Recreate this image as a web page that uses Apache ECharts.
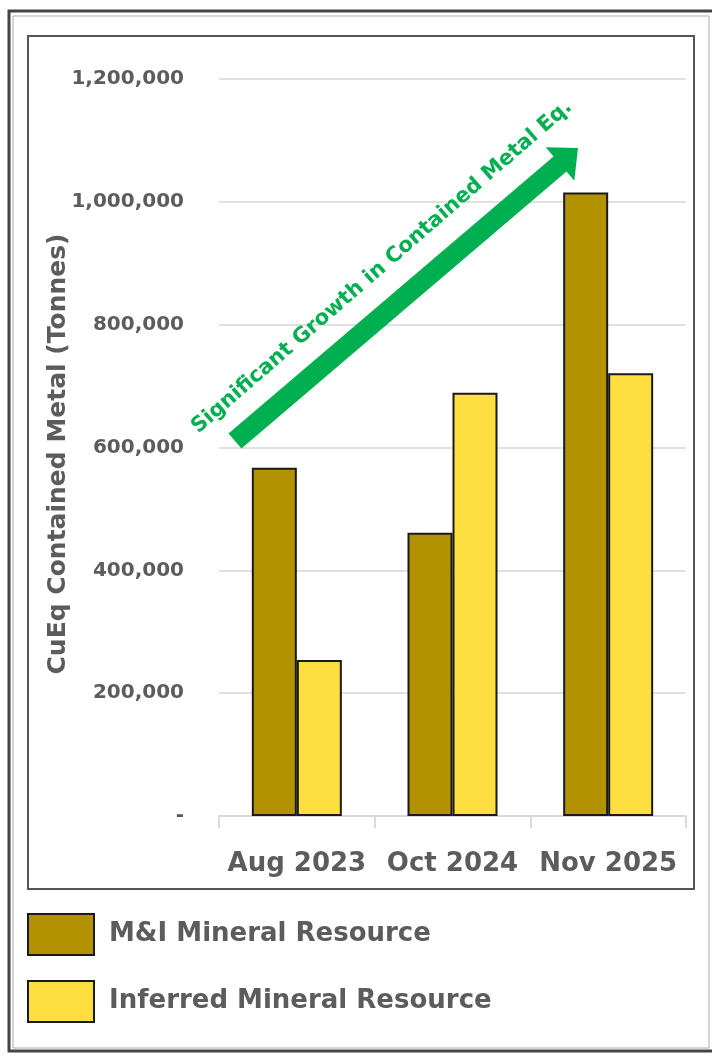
<!DOCTYPE html>
<html>
<head>
<meta charset="utf-8">
<script src="https://cdn.jsdelivr.net/npm/echarts@6/dist/echarts.min.js"></script>
<style>
  html, body { margin: 0; padding: 0; background: #fff; }
  #chart { width: 712px; height: 1057px; }
</style>
</head>
<body>
<div id="chart"></div>
<script>
// data
const categories = ["Aug 2023", "Oct 2024", "Nov 2025"];
const measuredIndicated = [567000, 461000, 1015000];
const inferred = [254000, 689000, 721000];
const seriesNames = ["M&I Mineral Resource", "Inferred Mineral Resource"];
const arrowText = "Significant Growth in Contained Metal Eq.";
const yAxisTitle = "CuEq Contained Metal (Tonnes)";

const FONT = "'DejaVu Sans', sans-serif";
const GREY = "#5c5c5c";
const GREEN = "#00b050";

const chart = echarts.init(document.getElementById("chart"));

// arrow polygon (annotation, pixel space)
function arrowPoints(tail, base, tip, shaftHalf, headHalf) {
  const dx = tip[0] - tail[0], dy = tip[1] - tail[1];
  const len = Math.sqrt(dx * dx + dy * dy);
  const nx = -dy / len, ny = dx / len;
  return [
    [tail[0] + nx * shaftHalf, tail[1] + ny * shaftHalf],
    [base[0] + nx * shaftHalf, base[1] + ny * shaftHalf],
    [base[0] + nx * headHalf, base[1] + ny * headHalf],
    tip,
    [base[0] - nx * headHalf, base[1] - ny * headHalf],
    [base[0] - nx * shaftHalf, base[1] - ny * shaftHalf],
    [tail[0] - nx * shaftHalf, tail[1] - ny * shaftHalf]
  ];
}

const option = {
  backgroundColor: "#fff",
  animation: false,
  grid: {
    left: 219,
    right: 26,
    top: 79,
    bottom: 241
  },
  legend: {
    orient: "vertical",
    left: 27,
    top: 913,
    padding: 0,
    itemWidth: 66,
    itemHeight: 41,
    itemGap: 24,
    icon: "rect",
    textStyle: {
      fontFamily: FONT,
      fontSize: 26,
      fontWeight: 700,
      color: GREY,
      padding: [0, 0, 2, 10]
    },
    data: seriesNames
  },
  xAxis: {
    type: "category",
    data: categories,
    axisLine: { show: true, lineStyle: { color: "#d9d9d9", width: 2 } },
    axisTick: { show: true, length: 12, lineStyle: { color: "#d9d9d9", width: 2 } },
    axisLabel: {
      interval: 0,
      hideOverlap: false,
      margin: 35,
      fontFamily: FONT,
      fontSize: 26,
      fontWeight: 700,
      color: GREY
    }
  },
  yAxis: {
    type: "value",
    min: 0,
    max: 1200000,
    interval: 200000,
    name: yAxisTitle,
    nameLocation: "middle",
    nameRotate: 90,
    nameGap: 148,
    nameMoveOverlap: false,
    nameTextStyle: {
      fontFamily: FONT,
      fontSize: 25,
      fontWeight: 700,
      color: GREY,
      padding: [0, 0, 0, -13]
    },
    axisLine: { show: false },
    axisTick: { show: false },
    splitLine: { show: true, lineStyle: { color: "#e0e0e0", width: 2 } },
    axisLabel: {
      margin: 35,
      fontFamily: FONT,
      fontSize: 20,
      fontWeight: 700,
      color: GREY,
      formatter: v => (v === 0 ? "-" : v.toLocaleString("en-US"))
    }
  },
  series: [
    {
      name: seriesNames[0],
      type: "bar",
      data: measuredIndicated,
      barWidth: 45,
      barGap: "0%",
      itemStyle: { color: "#b39200", borderColor: "#1a1a1a", borderWidth: 2 }
    },
    {
      name: seriesNames[1],
      type: "bar",
      data: inferred,
      barWidth: 45,
      itemStyle: { color: "#ffde40", borderColor: "#1a1a1a", borderWidth: 2 }
    }
  ],
  graphic: [
    // outer double frame
    { type: "rect", silent: true, shape: { x: 9, y: 11, width: 712, height: 1040 },
      style: { fill: "none", stroke: "#444", lineWidth: 3 } },
    { type: "rect", silent: true, shape: { x: 13, y: 16, width: 696, height: 1032 },
      style: { fill: "none", stroke: "#aaa", lineWidth: 1 } },
    // inner frame round the plot
    { type: "rect", silent: true, shape: { x: 28, y: 36, width: 666, height: 853 },
      style: { fill: "none", stroke: "#555", lineWidth: 2 } },
    // growth arrow
    { type: "polygon", silent: true, z: 10,
      shape: { points: arrowPoints([235, 441], [560, 164], [578, 148], 10, 22) },
      style: { fill: GREEN } },
    { type: "text", silent: true, z: 10, x: 382, y: 267, rotation: 41 * Math.PI / 180,
      style: { text: arrowText, fill: GREEN, font: "700 21px " + FONT, align: "center", verticalAlign: "middle" } }
  ]
};

chart.setOption(option);
</script>
</body>
</html>
